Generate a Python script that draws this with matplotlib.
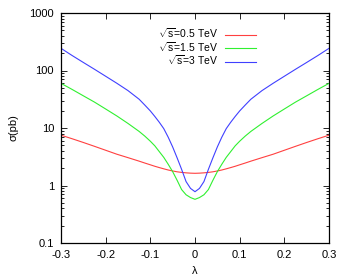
import numpy as np
import matplotlib
matplotlib.use("Agg")
import matplotlib.pyplot as plt
from matplotlib.ticker import LogLocator, NullFormatter, FixedLocator

plt.rcParams['font.family'] = ['Liberation Sans', 'DejaVu Sans']
plt.rcParams['mathtext.fontset'] = 'custom'
plt.rcParams['mathtext.rm'] = 'Liberation Sans'

# |lambda| grid where the curves were read (curves are symmetric in lambda)
lam_half = [0.0, 0.01, 0.02, 0.03, 0.04, 0.05, 0.06, 0.07, 0.08, 0.09,
            0.10, 0.1125, 0.125, 0.15, 0.175, 0.20, 0.225, 0.25, 0.275, 0.30]

# cross sections (pb)
sig_05 = [1.63, 1.64, 1.66, 1.69, 1.73, 1.79, 1.86, 1.95, 2.05, 2.16,
          2.29, 2.46, 2.65, 3.05, 3.5, 4.1, 4.8, 5.6, 6.5, 7.5]
sig_15 = [0.575, 0.617, 0.69, 0.85, 1.23, 1.74, 2.34, 3.09, 3.89, 4.90,
          5.89, 7.24, 8.71, 12.0, 16.2, 21.4, 28.2, 36.3, 46.8, 59.8]
sig_3 = [0.78, 0.89, 1.17, 1.91, 3.02, 4.68, 6.92, 9.77, 12.6, 15.9,
         19.8, 25.1, 31.6, 44.7, 60.0, 79.4, 105.0, 138.0, 182.0, 243.0]

labels = [r'$\sqrt{\mathrm{s}}$=0.5 TeV', r'$\sqrt{\mathrm{s}}$=1.5 TeV',
          r'$\sqrt{\mathrm{s}}$=3 TeV']
colors = ['#ff4040', '#30f030', '#4040ff']

x_ticks = [-0.3, -0.2, -0.1, 0, 0.1, 0.2, 0.3]
x_ticklabels = ['-0.3', '-0.2', '-0.1', '0', '0.1', '0.2', '0.3']
y_ticks = [0.1, 1, 10, 100, 1000]
y_ticklabels = ['0.1', '1', '10', '100', '1000']


def mirror(v):
    v = np.asarray(v, dtype=float)
    return np.concatenate([v[:0:-1], v])


lam = np.concatenate([-np.asarray(lam_half[:0:-1]), lam_half])

fig = plt.figure(figsize=(3.5, 2.79), dpi=100)
ax = fig.add_axes([61 / 350, 1 - 243 / 279, 268 / 350, 230 / 279])

for s, c, lab in zip([sig_05, sig_15, sig_3], colors, labels):
    ax.plot(lam, mirror(s), color=c, lw=0.8, label=lab)

ax.set_yscale('log')
ax.set_xlim(-0.3, 0.3)
ax.set_ylim(0.1, 1000)

ax.xaxis.set_major_locator(FixedLocator(x_ticks))
ax.set_xticklabels(x_ticklabels)
ax.set_yticks(y_ticks)
ax.set_yticklabels(y_ticklabels)
ax.yaxis.set_minor_locator(LogLocator(base=10, subs=np.arange(2, 10)))
ax.yaxis.set_minor_formatter(NullFormatter())

ax.tick_params(which='both', direction='in', top=True, right=True,
               labelsize=8, width=0.6, colors='black')
ax.tick_params(which='major', length=4, pad=5)
ax.tick_params(which='minor', length=2)
for sp in ax.spines.values():
    sp.set_linewidth(0.9)

ax.set_xlabel('λ', fontsize=8, labelpad=4)
ax.set_ylabel('σ(pb)', fontsize=8, labelpad=8)

leg = ax.legend(loc='upper right', bbox_to_anchor=(0.728, 0.94),
                frameon=False, markerfirst=False, fontsize=7.5,
                handlelength=3.0, handletextpad=0.6, labelspacing=-0.02,
                borderpad=0, borderaxespad=0)
for t in leg.get_texts():
    t.set_ha('right')

fig.savefig('out.png', dpi=100)
